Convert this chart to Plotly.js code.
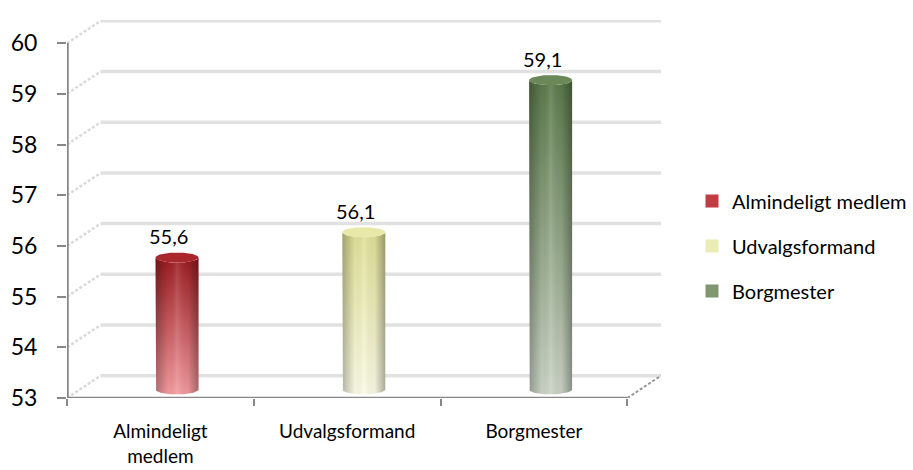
<!DOCTYPE html>
<html>
<head>
<meta charset="utf-8">
<script src="https://cdn.plot.ly/plotly-3.0.1.min.js"></script>
<style>
  html, body { margin: 0; padding: 0; background: #fff; }
  #chart { width: 913px; height: 470px; }
</style>
</head>
<body>
<div id="chart"></div>
<script>
// Gennemsnitsalder efter post
const categories = ['Almindeligt medlem', 'Udvalgsformand', 'Borgmester'];
const axisLabels = ['Almindeligt<br>medlem', 'Udvalgsformand', 'Borgmester'];
const values = [55.6, 56.1, 59.1];
const yTicks = [53, 54, 55, 56, 57, 58, 59, 60];

// cylinder colour ramps: top of body, bottom of body, cap, legend swatch
const bodyTop = ['#9b1b21', '#e0e096', '#5a7949'];
const bodyBottom = ['#f59ca0', '#fbfbe6', '#cbd4c6'];
const capColor = ['#a9272d', '#e8e8a9', '#6a8858'];
const swatch = ['#c23c43', '#ebebb6', '#7e9771'];

// pseudo-3D geometry (in axis units)
const BASE = 53;
const DX = 0.18, DY = 0.44;      // depth of the box (back wall offset)
const MID = 0.17;                // cylinder axis sits halfway into the box
const CX = 0.089;                // horizontal shift of cylinders toward the back
const RX = 0.115, RY = 0.1;      // ellipse radii of cylinder ends

const traces = [];
const nn = (arrs) => [].concat(...arrs.map(a => a.concat([null])));

// back wall gridlines
traces.push({
  x: nn(yTicks.map(() => [-0.5 + DX, 2.5 + DX])),
  y: nn(yTicks.map(v => [v + DY, v + DY])),
  mode: 'lines', line: { color: '#e1e1e1', width: 3.5 },
  hoverinfo: 'skip', showlegend: false
});
// side wall diagonals
traces.push({
  x: nn(yTicks.map(() => [-0.5, -0.5 + DX])),
  y: nn(yTicks.map(v => [v, v + DY])),
  mode: 'lines', line: { color: '#dadada', width: 2.5, dash: '3px,2px' },
  hoverinfo: 'skip', showlegend: false
});
// floor edge on the right
traces.push({
  x: [2.5, 2.5 + DX], y: [BASE, BASE + DY],
  mode: 'lines', line: { color: '#969696', width: 2, dash: '3px,2px' },
  hoverinfo: 'skip', showlegend: false
});

// cylinders
const N = 40;
values.forEach((v, i) => {
  const cx = i + CX;
  const top = v + MID, bot = BASE + MID;
  const bx = [], by = [];
  bx.push(cx - RX); by.push(top);
  for (let k = 0; k <= N; k++) {            // front half of base ellipse
    const t = Math.PI + Math.PI * k / N;
    bx.push(cx + RX * Math.cos(t)); by.push(bot + RY * Math.sin(t));
  }
  for (let k = 0; k <= N; k++) {            // front half of top ellipse
    const t = -Math.PI * k / N;
    bx.push(cx + RX * Math.cos(t)); by.push(top + RY * Math.sin(t));
  }
  traces.push({
    x: bx, y: by, mode: 'lines', fill: 'toself', line: { width: 0 },
    fillgradient: { type: 'vertical', colorscale: [[0, bodyBottom[i]], [1, bodyTop[i]]] },
    hoverinfo: 'skip', showlegend: false
  });
  traces.push({
    x: bx, y: by, mode: 'lines', fill: 'toself', line: { width: 0 },
    fillgradient: { type: 'horizontal', colorscale: [
      [0, 'rgba(0,0,0,0.28)'], [0.3, 'rgba(0,0,0,0.02)'], [0.5, 'rgba(255,255,255,0.12)'],
      [0.75, 'rgba(0,0,0,0.04)'], [1, 'rgba(0,0,0,0.32)']] },
    hoverinfo: 'skip', showlegend: false
  });
  const ex = [], ey = [];
  for (let k = 0; k <= 2 * N; k++) {
    const t = 2 * Math.PI * k / (2 * N);
    ex.push(cx + RX * Math.cos(t)); ey.push(top + RY * Math.sin(t));
  }
  traces.push({
    x: ex, y: ey, mode: 'lines', fill: 'toself', line: { width: 0 },
    fillcolor: capColor[i], hoverinfo: 'skip', showlegend: false
  });
});

// front axis lines
traces.push({
  x: [-0.5, -0.5], y: [BASE, 60],
  mode: 'lines', line: { color: '#878787', width: 3.5 },
  hoverinfo: 'skip', showlegend: false
});
traces.push({
  x: [-0.5, 2.5], y: [BASE, BASE], xaxis: 'x2',
  mode: 'lines', line: { color: '#878787', width: 2.5 },
  hoverinfo: 'skip', showlegend: false
});

// legend entries
categories.forEach((c, i) => {
  traces.push({
    x: [null], y: [null], mode: 'markers', name: c, legendgroup: 'g' + i,
    marker: { symbol: 'square', size: 13, color: swatch[i], line: { width: 0 } },
    hoverinfo: 'skip'
  });
});

const fmt = v => v.toFixed(1).replace('.', ',');
const annotations = values.map((v, i) => ({
  x: i + 0.045, y: v, xref: 'x', yref: 'y', text: fmt(v),
  showarrow: false, yanchor: 'middle', yshift: 30,
  font: { size: 20, color: '#000' }
}));

const XR = [-0.5, 2.68];
const layout = {
  width: 913, height: 470,
  margin: { l: 67, r: 252, t: 20, b: 72, autoexpand: false },
  paper_bgcolor: '#fff', plot_bgcolor: '#fff',
  font: { family: 'Lato, sans-serif', color: '#000', size: 20 },
  showlegend: true,
  legend: {
    x: 1.0522, xanchor: 'left', y: 0.402, yanchor: 'middle',
    font: { size: 20 }, tracegroupgap: 16, itemwidth: 30
  },
  xaxis: {
    range: XR, tickvals: [-0.5, 0.5, 1.5, 2.5], ticktext: ['', '', '', ''],
    ticks: 'outside', ticklen: 7, tickwidth: 2, tickcolor: '#878787',
    showgrid: false, zeroline: false, showline: false, fixedrange: true
  },
  xaxis2: {
    overlaying: 'x', anchor: 'y', side: 'bottom', range: XR,
    tickvals: [0, 1, 2], ticktext: axisLabels, ticks: '',
    ticklabelstandoff: 20, tickfont: { size: 19 },
    showgrid: false, zeroline: false, showline: false, fixedrange: true
  },
  yaxis: {
    range: [BASE, 60.456], tickvals: yTicks, ticks: 'outside', ticklen: 9,
    tickwidth: 2, tickcolor: '#878787', tickfont: { size: 23 },
    ticklabelstandoff: 15, showgrid: false, zeroline: false, showline: false,
    fixedrange: true
  },
  annotations: annotations
};

Plotly.newPlot('chart', traces, layout, { displayModeBar: false, staticPlot: true });
</script>
</body>
</html>
